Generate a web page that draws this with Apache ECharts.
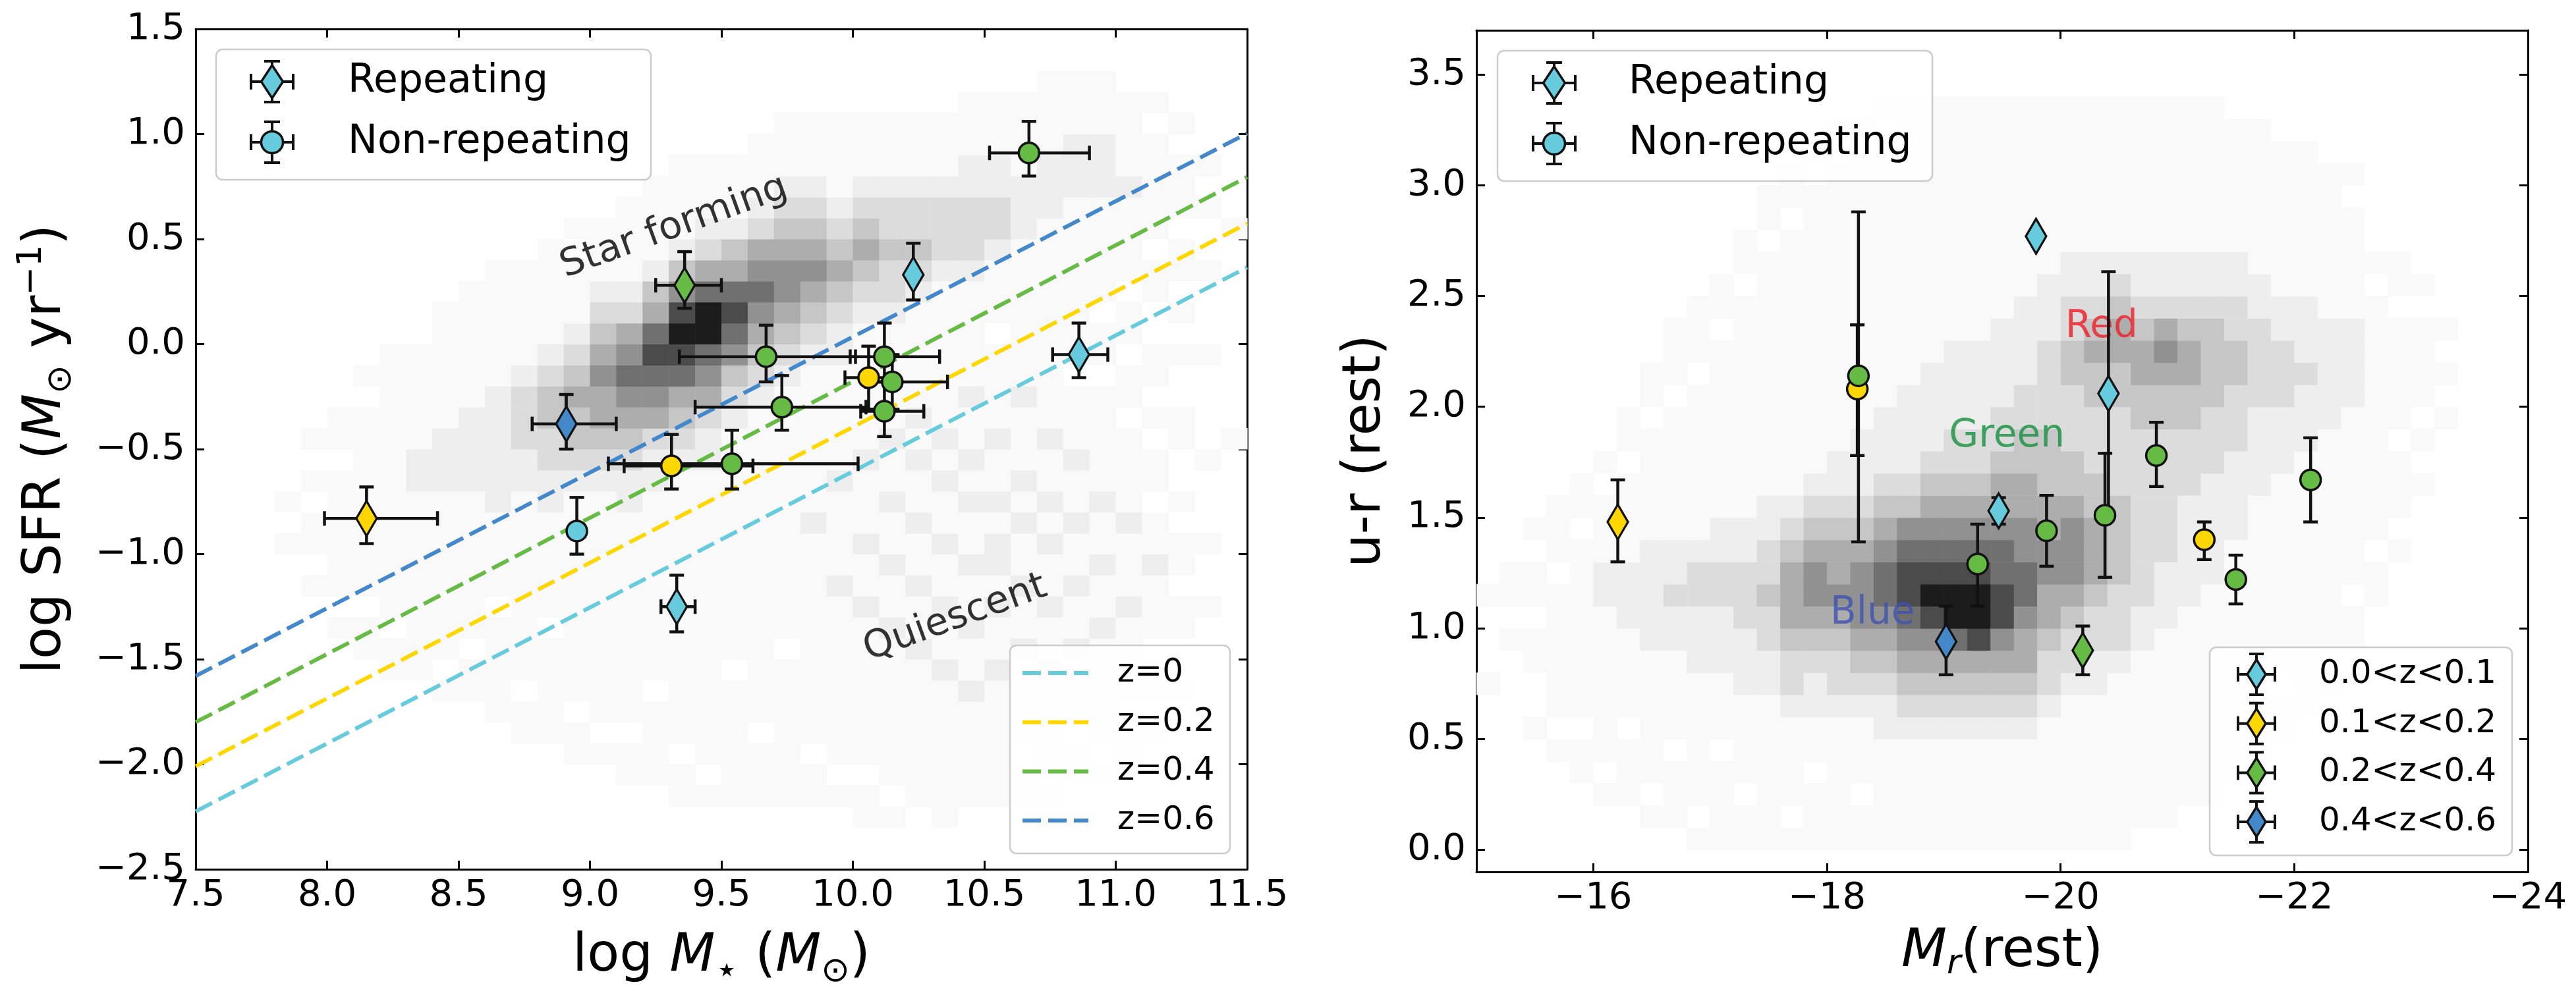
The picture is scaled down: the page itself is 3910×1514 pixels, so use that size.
<!DOCTYPE html>
<html lang="en">
<head>
<meta charset="UTF-8">
<title>FRB hosts: SFR-mass and colour-magnitude</title>
<style>
    html, body { margin: 0; padding: 0; background: #fff; }
    #chart { width: 3910px; height: 1514px; }
</style>
<script src="https://cdn.jsdelivr.net/npm/echarts@6.0.0/dist/echarts.min.js"></script>
</head>
<body>
<div id="chart"></div>
<script>
// ---- data ----
const zColors = ['#66CCDD', '#FFD700', '#66BB44', '#4488CC'];
const zLineNames = ['z=0', 'z=0.2', 'z=0.4', 'z=0.6'];
const zBinNames = ['0.0<z<0.1', '0.1<z<0.2', '0.2<z<0.4', '0.4<z<0.6'];

// main sequence lines, log SFR at log M = 7.5 and 11.5
const msMass = [7.5, 11.5];
const msStart = [-2.225, -2.01, -1.80, -1.58];
const msEnd = [0.365, 0.574, 0.795, 1.003];

// left panel: hosts
const sfrMass   = [10.67, 9.36, 10.23, 10.86, 9.67, 10.12, 10.06, 10.15, 9.73, 10.12, 8.91, 9.31, 9.54, 8.15, 8.95, 9.33];
const sfrMassLo = [10.52, 9.25, 10.23, 10.76, 9.34, 9.99, 9.97, 10.05, 9.40, 10.03, 8.78, 9.13, 9.07, 7.99, 8.93, 9.27];
const sfrMassHi = [10.90, 9.50, 10.23, 10.97, 10.01, 10.33, 10.15, 10.36, 10.05, 10.27, 9.10, 9.62, 10.02, 8.42, 8.98, 9.40];
const sfrVal    = [0.91, 0.28, 0.33, -0.05, -0.06, -0.06, -0.16, -0.18, -0.30, -0.32, -0.38, -0.58, -0.57, -0.83, -0.89, -1.25];
const sfrLo     = [0.80, 0.17, 0.21, -0.16, -0.18, -0.18, -0.31, -0.31, -0.41, -0.44, -0.50, -0.69, -0.69, -0.95, -1.00, -1.37];
const sfrHi     = [1.06, 0.44, 0.48, 0.10, 0.09, 0.10, -0.01, -0.05, -0.15, -0.18, -0.24, -0.43, -0.41, -0.68, -0.73, -1.10];
const sfrRepeat = [0, 1, 1, 1, 0, 0, 0, 0, 0, 0, 1, 0, 0, 1, 0, 1];
const sfrZbin   = [2, 2, 0, 0, 2, 2, 1, 2, 2, 2, 3, 1, 2, 1, 0, 0];

// right panel: hosts
const urMag    = [-16.21, -18.26, -18.27, -19.79, -20.41, -20.82, -22.14, -19.47, -19.88, -20.38, -21.23, -19.29, -21.50, -19.02, -20.19];
const urVal    = [1.48, 2.08, 2.14, 2.77, 2.06, 1.78, 1.67, 1.53, 1.44, 1.51, 1.40, 1.29, 1.22, 0.94, 0.90];
const urLo     = [1.30, 1.78, 1.39, 2.77, 1.51, 1.64, 1.48, 1.47, 1.28, 1.23, 1.31, 1.10, 1.11, 0.79, 0.79];
const urHi     = [1.67, 2.37, 2.88, 2.77, 2.61, 1.93, 1.86, 1.59, 1.60, 1.79, 1.48, 1.47, 1.33, 1.10, 1.01];
const urRepeat = [1, 0, 0, 1, 1, 0, 0, 1, 0, 0, 0, 0, 0, 1, 1];
const urZbin   = [1, 1, 2, 0, 0, 2, 2, 0, 2, 2, 1, 2, 2, 3, 2];

// text labels inside the panels
const sfrNotes = ['Star forming', 'Quiescent'];
const sfrNoteX = [9.32, 10.39];
const sfrNoteY = [0.556, -1.306];
const urNotes = ['Red', 'Green', 'Blue'];
const urNoteX = [-20.35, -19.54, -18.39];
const urNoteY = [2.36, 1.866, 1.067];

// background galaxy counts (grey level 0-9), one entry per x bin:
// [first y bin, levels going up]
const sfrBins = { x0: 7.5, dx: 0.1, y0: -2.5, dy: 0.1 };
const sfrHistCols = [
    [0, ''], [0, ''], [0, ''],
    [15, '101'],
    [13, '10110101'],
    [11, '10111111011'],
    [10, '11011111111101'],
    [9, '1101111111111111'],
    [9, '11111111122111110'],
    [8, '1011111111222111111'],
    [8, '11011111112222111111'],
    [7, '1111101111222222111111'],
    [6, '11011111111122333211111'],
    [6, '111110111112233443211111'],
    [5, '11011111111112344543211101'],
    [5, '10111111111112345565432111'],
    [4, '1101111111111223456765321111'],
    [4, '11110111111111223567875421111'],
    [3, '1101111111111111234578986421111'],
    [3, '1011111111111111223567997532111'],
    [3, '1111110111111111112346787542111'],
    [3, '11101111111111111112345676532111'],
    [3, '111111101111111111112345665432111'],
    [3, '110111111111121111111234565432111'],
    [3, '101111111121111211111223454321111'],
    [2, '1101111111211211121111112345432111'],
    [2, '1011111112112112112111112334332111'],
    [2, '0111111121121121121211111234332111'],
    [2, '1111111211211211212111111123332111'],
    [3, '1111121121121121211211111233322111'],
    [3, '1111112112122121121111011123322111'],
    [3, '1101111211211212111211111112221111'],
    [3, '10111121121121211211111111112221111'],
    [4, '1101112112112112111011111111222111'],
    [4, '1011111211211211111011011111222111'],
    [5, '110111121112111101101101111211110'],
    [6, '1011011121101101011001101111101'],
    [8, '1001101101001100101011011101'],
    [12, '1001000100001000100101'],
    [20, '10000000001']
];

const urBins = { x0: -15, dx: -0.2, y0: -0.1, dy: 0.1 };
const urHistCols = [
    [8, '10001'],
    [10, '1011'],
    [6, '1001101101'],
    [5, '101111110111'],
    [4, '11011111111011'],
    [3, '1011111112211101'],
    [3, '111011112221111011'],
    [2, '101111112222211111011'],
    [2, '11101111223221111110111'],
    [1, '1011111122233211111110111'],
    [1, '11110111222332211111111011'],
    [1, '1101111222333221111111111011'],
    [1, '111111122334332211111111111011'],
    [1, '1011112334555432111111111111011'],
    [1, '11101122345665432111111111111101'],
    [1, '111111233456554322111111111111101'],
    [1, '110111234566654322211111111111111'],
    [1, '1111122345677654322211111111111101'],
    [1, '1111123456788764322221111111111111'],
    [1, '1111123456898765432222111111111111'],
    [1, '1111123457998765433222211111111111'],
    [1, '1111123458998765433222211111111111'],
    [1, '1111123456887765543322221111111111'],
    [1, '1111123455677665544332222111111111'],
    [1, '1111112334556655444333322211111111'],
    [1, '1111111233456665443334433221111111'],
    [1, '1111111223345554433344543221111111'],
    [1, '1111111123334444333344554321111111'],
    [2, '111111112233333333445543221111111'],
    [2, '111111111222333333445653221111111'],
    [3, '11111111122222333445543221111111'],
    [3, '11111111112222233344443221111111'],
    [4, '111111111112222333443322111111'],
    [5, '11111111111122223333221111111'],
    [6, '110111111111222333221111111'],
    [7, '11111111111122232221111111'],
    [8, '101111111111222221111111'],
    [10, '1101111111122221111101'],
    [12, '1101111111111101'],
    [14, '10111011111011'],
    [17, '1010111101'],
    [20, '10101']
];

// ---- helpers ----
const FONT = 'DejaVu Sans';
const greys = ['#ffffff', '#f9f9f9', '#eeeeee', '#dcdcdc', '#c6c6c6', '#adadad', '#919191', '#707070', '#4b4b4b', '#1c1c1c'];

function histData(cols, b) {
    const out = [];
    cols.forEach((col, c) => {
        const start = col[0], run = col[1];
        for (let i = 0; i < run.length; i++) {
            const lv = +run[i];
            if (lv > 0) out.push([b.x0 + c * b.dx, b.y0 + (start + i) * b.dy, lv]);
        }
    });
    return out;
}

function histRender(b) {
    return function (params, api) {
        const x0 = api.value(0), y0 = api.value(1);
        const p = api.coord([x0, y0]);
        const q = api.coord([x0 + b.dx, y0 + b.dy]);
        return {
            type: 'rect',
            shape: {
                x: Math.min(p[0], q[0]), y: Math.min(p[1], q[1]),
                width: Math.abs(q[0] - p[0]) + 0.6, height: Math.abs(q[1] - p[1]) + 0.6
            },
            style: { fill: greys[api.value(2)] },
            silent: true
        };
    };
}

function errRender(params, api) {
    const x = api.value(0), y = api.value(1);
    const xl = api.value(2), xh = api.value(3), yl = api.value(4), yh = api.value(5);
    const st = { stroke: '#111', lineWidth: 4.5 };
    const cap = 11;
    const kids = [];
    const seg = (x1, y1, x2, y2) => kids.push({ type: 'line', shape: { x1, y1, x2, y2 }, style: st });
    if (xh - xl > 1e-9) {
        const p = api.coord([xl, y]), q = api.coord([xh, y]);
        seg(p[0], p[1], q[0], q[1]);
        seg(p[0], p[1] - cap, p[0], p[1] + cap);
        seg(q[0], q[1] - cap, q[0], q[1] + cap);
    }
    if (yh - yl > 1e-9) {
        const p = api.coord([x, yl]), q = api.coord([x, yh]);
        seg(p[0], p[1], q[0], q[1]);
        seg(p[0] - cap, p[1], p[0] + cap, p[1]);
        seg(q[0] - cap, q[1], q[0] + cap, q[1]);
    }
    return { type: 'group', children: kids };
}

function markerData(xs, ys, rep, zb) {
    return xs.map((x, i) => ({
        value: [x, ys[i]],
        symbol: rep[i] ? 'diamond' : 'circle',
        symbolSize: rep[i] ? [31, 53] : 31,
        itemStyle: { color: zColors[zb[i]] }
    }));
}

function tickFmt(v) {
    return (v < 0 ? '\u2212' : '') + Math.abs(v).toFixed(1);
}

const tickLabel = { show: true, fontSize: 56, fontFamily: FONT, color: '#000', margin: 14 };

function axis(extra) {
    return Object.assign({
        type: 'value',
        axisLine: { onZero: false, lineStyle: { color: '#000', width: 3 } },
        axisTick: { inside: true, length: 13, lineStyle: { color: '#000', width: 3 } },
        splitLine: { show: false },
        axisLabel: { show: false }
    }, extra);
}

const nameRich = {
    i: { fontFamily: FONT, fontSize: 80, fontStyle: 'italic', color: '#000' },
    sub: { fontFamily: FONT, fontSize: 52, padding: [46, 0, 0, 0], color: '#000' },
    star: { fontFamily: FONT, fontSize: 56, padding: [46, 0, 0, 0], color: '#000' },
    sup: { fontFamily: FONT, fontSize: 52, padding: [0, 0, 44, 0], color: '#000' },
    isub: { fontFamily: FONT, fontSize: 52, fontStyle: 'italic', padding: [36, 0, 0, 0], color: '#000' }
};
const nameStyle = { fontFamily: FONT, fontSize: 80, color: '#000', rich: nameRich };

// ---- legends (drawn as plain graphics) ----
function diamondPts(cx, cy, w, h) {
    return [[cx, cy - h / 2], [cx + w / 2, cy], [cx, cy + h / 2], [cx - w / 2, cy]];
}

function errHandle(cx, cy, hw, hh, cap, shape, color, mw, mh) {
    const st = { stroke: '#111', lineWidth: 4 };
    const els = [
        { type: 'line', shape: { x1: cx - hw, y1: cy, x2: cx + hw, y2: cy }, style: st },
        { type: 'line', shape: { x1: cx - hw, y1: cy - cap, x2: cx - hw, y2: cy + cap }, style: st },
        { type: 'line', shape: { x1: cx + hw, y1: cy - cap, x2: cx + hw, y2: cy + cap }, style: st },
        { type: 'line', shape: { x1: cx, y1: cy - hh, x2: cx, y2: cy + hh }, style: st },
        { type: 'line', shape: { x1: cx - cap, y1: cy - hh, x2: cx + cap, y2: cy - hh }, style: st },
        { type: 'line', shape: { x1: cx - cap, y1: cy + hh, x2: cx + cap, y2: cy + hh }, style: st }
    ];
    const mst = { fill: color, stroke: '#111', lineWidth: 3.5 };
    if (shape === 'diamond') {
        els.push({ type: 'polygon', shape: { points: diamondPts(cx, cy, mw, mh) }, style: mst });
    } else {
        els.push({ type: 'circle', shape: { cx: cx, cy: cy, r: mw / 2 }, style: mst });
    }
    return els;
}

function frame(x, y, w, h) {
    return { type: 'rect', shape: { x, y, width: w, height: h, r: 10 },
             style: { fill: 'rgba(255,255,255,0.85)', stroke: '#cccccc', lineWidth: 2.5 } };
}

function label(x, y, text, size) {
    return { type: 'text', x, y, style: { text, fontSize: size, fontFamily: FONT, fill: '#000', verticalAlign: 'middle', align: 'left' } };
}

const graphics = [];
// repeating / non-repeating boxes, both panels
[[328, 75, 413, 528], [2273, 77, 2359, 2472]].forEach(([bx, by, mx, tx]) => {
    graphics.push(frame(bx, by, 660, 198));
    const r1 = by + 49, r2 = by + 141;
    graphics.push(...errHandle(mx, r1, 32, 31, 12, 'diamond', zColors[0], 33, 50));
    graphics.push(label(tx, r1, 'Repeating', 60));
    graphics.push(...errHandle(mx, r2, 32, 31, 12, 'circle', zColors[0], 33, 33));
    graphics.push(label(tx, r2, 'Non-repeating', 60));
});
// z lines legend (left)
graphics.push(frame(1533, 980, 334, 316));
zLineNames.forEach((n, i) => {
    const y = 1022 + i * 74.7;
    graphics.push({ type: 'line', shape: { x1: 1552, y1: y, x2: 1652, y2: y },
                    style: { stroke: zColors[i], lineWidth: 6, lineDash: [28, 11] } });
    graphics.push(label(1696, y, n, 50));
});
// z bins legend (right)
graphics.push(frame(3354, 983, 459, 316));
zBinNames.forEach((n, i) => {
    const y = 1024 + i * 74.7;
    graphics.push(...errHandle(3425, y, 28, 31, 11, 'diamond', zColors[i], 28, 45));
    graphics.push(label(3520, y, n, 50));
});
// keep legends above every series
graphics.forEach((g, i) => { g.z = 100 + i; });

// ---- chart ----
const chart = echarts.init(document.getElementById('chart'), null, { renderer: 'canvas' });

const series = [
    { type: 'custom', xAxisIndex: 0, yAxisIndex: 0, z: 1, renderItem: histRender(sfrBins),
      data: histData(sfrHistCols, sfrBins), silent: true }
];
msStart.forEach((s, i) => {
    series.push({
        type: 'line', xAxisIndex: 0, yAxisIndex: 0, z: 2, symbol: 'none', silent: true,
        data: [[msMass[0], s], [msMass[1], msEnd[i]]],
        lineStyle: { color: zColors[i], width: 6, type: [28, 11] }
    });
});
series.push(
    { type: 'scatter', xAxisIndex: 0, yAxisIndex: 0, z: 3, symbolSize: 1, silent: true,
      itemStyle: { color: 'transparent' },
      data: sfrNotes.map((t, i) => ({ value: [sfrNoteX[i], sfrNoteY[i]], name: t })),
      label: { show: true, position: 'inside', formatter: '{b}', rotate: 20,
               fontSize: 58, fontFamily: FONT, color: '#000' } },
    { type: 'custom', xAxisIndex: 0, yAxisIndex: 0, z: 4, renderItem: errRender, silent: true,
      data: sfrMass.map((m, i) => [m, sfrVal[i], sfrMassLo[i], sfrMassHi[i], sfrLo[i], sfrHi[i]]) },
    { type: 'scatter', xAxisIndex: 0, yAxisIndex: 0, z: 5, silent: true,
      itemStyle: { borderColor: '#111', borderWidth: 3.5, opacity: 1 },
      data: markerData(sfrMass, sfrVal, sfrRepeat, sfrZbin) },

    { type: 'custom', xAxisIndex: 2, yAxisIndex: 2, z: 1, renderItem: histRender(urBins),
      data: histData(urHistCols, urBins), silent: true },
    { type: 'scatter', xAxisIndex: 2, yAxisIndex: 2, z: 3, symbolSize: 1, silent: true,
      itemStyle: { color: 'transparent' },
      data: urNotes.map((t, i) => ({
          value: [urNoteX[i], urNoteY[i]], name: t,
          label: { color: ['#EE1C25', '#14903F', '#3F51B0'][i] }
      })),
      label: { show: true, position: 'inside', formatter: '{b}', fontSize: 58, fontFamily: FONT } },
    { type: 'custom', xAxisIndex: 2, yAxisIndex: 2, z: 4, renderItem: errRender, silent: true,
      data: urMag.map((m, i) => [m, urVal[i], m, m, urLo[i], urHi[i]]) },
    { type: 'scatter', xAxisIndex: 2, yAxisIndex: 2, z: 5, silent: true,
      itemStyle: { borderColor: '#111', borderWidth: 3.5, opacity: 1 },
      data: markerData(urMag, urVal, urRepeat, urZbin) }
);

const option = {
    animation: false,
    backgroundColor: '#fff',
    grid: [
        { left: 297, top: 44, width: 1596, height: 1276 },
        { left: 2241, top: 46, width: 1596, height: 1278 }
    ],
    xAxis: [
        axis({ gridIndex: 0, position: 'bottom', min: 7.5, max: 11.5, interval: 0.5,
               axisLabel: Object.assign({}, tickLabel, { margin: 12, formatter: tickFmt }),
               name: 'log {i|M}{star|\u22C6} ({i|M}{sub|\u2299})', nameLocation: 'middle', nameGap: 82,
               nameTextStyle: nameStyle }),
        axis({ gridIndex: 0, position: 'top', min: 7.5, max: 11.5, interval: 0.5 }),
        axis({ gridIndex: 1, position: 'bottom', min: -24, max: -15, interval: 2, inverse: true,
               axisLabel: Object.assign({}, tickLabel, { margin: 12,
                   formatter: v => (Math.abs(v % 2) < 1e-9 ? '\u2212' + Math.abs(v) : '') }),
               name: '{i|M}{isub|r}(rest)', nameLocation: 'middle', nameGap: 78,
               nameTextStyle: nameStyle }),
        axis({ gridIndex: 1, position: 'top', min: -24, max: -15, interval: 2, inverse: true })
    ],
    yAxis: [
        axis({ gridIndex: 0, position: 'left', min: -2.5, max: 1.5, interval: 0.5,
               axisLabel: Object.assign({}, tickLabel, { margin: 16, formatter: tickFmt }),
               name: 'log SFR ({i|M}{sub|\u2299} yr{sup|\u22121})', nameLocation: 'middle',
               nameRotate: 90, nameGap: 178, nameTextStyle: nameStyle }),
        axis({ gridIndex: 0, position: 'right', min: -2.5, max: 1.5, interval: 0.5 }),
        axis({ gridIndex: 1, position: 'left', min: -0.1, max: 3.7, splitNumber: 8,
               minInterval: 0.5, maxInterval: 0.5,
               axisLabel: Object.assign({}, tickLabel, { margin: 16,
                   formatter: v => (v < -1e-9 || v > 3.6 ? '' : v.toFixed(1)) }),
               name: 'u-r (rest)', nameLocation: 'middle', nameRotate: 90, nameGap: 128,
               nameTextStyle: nameStyle }),
        axis({ gridIndex: 1, position: 'right', min: -0.1, max: 3.7, splitNumber: 8,
               minInterval: 0.5, maxInterval: 0.5 })
    ],
    series: series,
    graphic: { elements: graphics }
};

chart.setOption(option);
</script>
</body>
</html>
